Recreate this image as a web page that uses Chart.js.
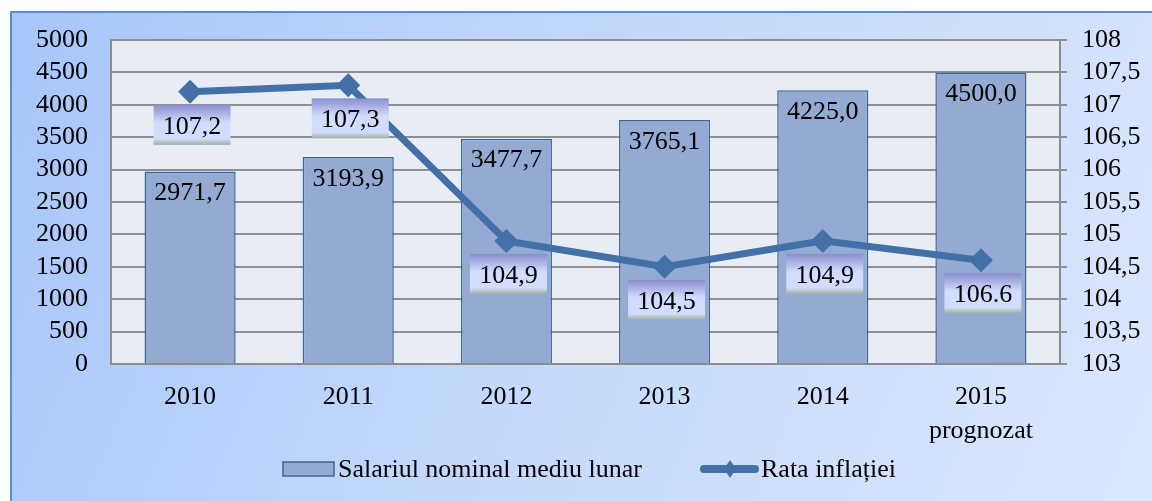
<!DOCTYPE html>
<html><head><meta charset="utf-8">
<script src="https://cdn.jsdelivr.net/npm/chart.js@4.4.1/dist/chart.umd.min.js"></script>
<style>html,body{margin:0;padding:0;background:#fff;}#wrap{width:1152px;height:501px;}</style>
</head><body><div id="wrap"><canvas id="c" width="1152" height="501"></canvas></div>
<script>
const categories = [['2010'], ['2011'], ['2012'], ['2013'], ['2014'], ['2015', 'prognozat']];
const salaryValues = [2971.7, 3193.9, 3477.7, 3765.1, 4225.0, 4500.0];
const inflationValues = [107.2, 107.3, 104.9, 104.5, 104.9, 104.6];
const inflationLabels = ['107,2', '107,3', '104,9', '104,5', '104,9', '106.6'];
const salaryLabel = 'Salariul nominal mediu lunar';
const inflationLabel = 'Rata inflației';
const leftTicks = {min: 0, max: 5000, step: 500};
const rightTicks = {min: 103, max: 108, step: 0.5};

const FONT = '"Liberation Serif", "Times New Roman", serif';
const BAR_FILL = '#94aad2';
const BAR_BORDER = '#3d6795';
const LINE_COLOR = '#4371a7';

const framePlugin = {
  id: 'frame',
  beforeDraw(chart) {
    const ctx = chart.ctx;
    ctx.save();
    ctx.fillStyle = '#ffffff';
    ctx.fillRect(0, 0, chart.width, chart.height);
    const g = ctx.createLinearGradient(10, 11, 1152, 501);
    g.addColorStop(0, '#a7c6fa');
    g.addColorStop(0.5, '#c5d9fc');
    g.addColorStop(1, '#dbe7fd');
    ctx.fillStyle = g;
    ctx.fillRect(10, 11, chart.width - 10, chart.height - 11);
    ctx.strokeStyle = '#5b8cd2';
    ctx.lineWidth = 2;
    ctx.beginPath();
    ctx.moveTo(11, chart.height);
    ctx.lineTo(11, 12);
    ctx.lineTo(chart.width, 12);
    ctx.stroke();
    const a = chart.chartArea;
    ctx.fillStyle = '#e8edf5';
    ctx.fillRect(a.left, a.top, a.right - a.left, a.bottom - a.top);
    ctx.restore();
  }
};

const labelPlugin = {
  id: 'labels',
  afterDatasetsDraw(chart) {
    const ctx = chart.ctx;
    ctx.save();
    ctx.font = '26px ' + FONT;
    ctx.textAlign = 'center';
    ctx.textBaseline = 'middle';
    ctx.fillStyle = '#000';
    chart.getDatasetMeta(0).data.forEach((el, i) => {
      const txt = salaryValues[i].toFixed(1).replace('.', ',');
      ctx.fillText(txt, el.x, el.y + 22);
    });
    chart.getDatasetMeta(1).data.forEach((el, i) => {
      const w = 77, h = 40;
      const cx = el.x + 2, top = el.y + 13;
      const g = ctx.createLinearGradient(0, top, 0, top + h);
      g.addColorStop(0, '#8a8dcf');
      g.addColorStop(0.45, '#d2ddfd');
      g.addColorStop(0.85, '#d2ddfd');
      g.addColorStop(1, '#9fb09c');
      ctx.fillStyle = g;
      ctx.fillRect(cx - w / 2, top, w, h);
      ctx.fillStyle = '#000';
      ctx.fillText(inflationLabels[i], cx, top + h / 2 + 2);
    });
    ctx.restore();
  }
};

const legendPlugin = {
  id: 'customLegend',
  afterDraw(chart) {
    const ctx = chart.ctx;
    ctx.save();
    const y = 469;
    ctx.font = '26px ' + FONT;
    ctx.textBaseline = 'middle';
    ctx.textAlign = 'left';
    ctx.fillStyle = BAR_FILL;
    ctx.fillRect(283, 462, 51, 14);
    ctx.strokeStyle = BAR_BORDER;
    ctx.lineWidth = 1.5;
    ctx.strokeRect(283, 462, 51, 14);
    ctx.fillStyle = '#000';
    ctx.fillText(chart.data.datasets[0].label, 338, y + 1);
    ctx.strokeStyle = LINE_COLOR;
    ctx.lineWidth = 8;
    ctx.lineCap = 'round';
    ctx.beginPath();
    ctx.moveTo(704, y);
    ctx.lineTo(755, y);
    ctx.stroke();
    ctx.fillStyle = LINE_COLOR;
    ctx.beginPath();
    ctx.moveTo(730, y - 9);
    ctx.lineTo(736, y);
    ctx.lineTo(730, y + 9);
    ctx.lineTo(724, y);
    ctx.closePath();
    ctx.fill();
    ctx.fillStyle = '#000';
    ctx.fillText(chart.data.datasets[1].label, 761, y + 1);
    ctx.restore();
  }
};

new Chart(document.getElementById('c'), {
  type: 'bar',
  data: {
    labels: categories,
    datasets: [
      {
        type: 'bar',
        label: salaryLabel,
        data: salaryValues,
        yAxisID: 'y',
        backgroundColor: BAR_FILL,
        borderColor: BAR_BORDER,
        borderWidth: 1.5,
        categoryPercentage: 1,
        barPercentage: 0.576,
        order: 2
      },
      {
        type: 'line',
        label: inflationLabel,
        data: inflationValues,
        yAxisID: 'y1',
        borderColor: LINE_COLOR,
        backgroundColor: LINE_COLOR,
        borderWidth: 7,
        pointStyle: 'rectRot',
        pointRadius: 12,
        pointBackgroundColor: LINE_COLOR,
        pointBorderColor: LINE_COLOR,
        pointBorderWidth: 0,
        tension: 0,
        order: 1
      }
    ]
  },
  options: {
    responsive: false,
    animation: false,
    devicePixelRatio: 1,
    layout: {padding: {left: 10, top: 40, right: 0, bottom: 47}},
    plugins: {legend: {display: false}, tooltip: {enabled: false}},
    scales: {
      x: {
        grid: {display: false, drawTicks: false},
        border: {display: true, color: '#8c8c8c', width: 2},
        ticks: {color: '#000', font: {family: FONT, size: 26, lineHeight: 1.3}, padding: 16, maxRotation: 0, autoSkip: false},
        afterFit(s) { s.height = 90; }
      },
      y: {
        position: 'left',
        min: leftTicks.min, max: leftTicks.max,
        ticks: {stepSize: leftTicks.step, color: '#000', font: {family: FONT, size: 26}, padding: 23, autoSkip: false,
          callback: v => String(v)},
        grid: {color: '#8f8f8f', lineWidth: 2, drawTicks: false},
        border: {display: true, color: '#8c8c8c', width: 2},
        afterFit(s) { s.width = 101; }
      },
      y1: {
        position: 'right',
        min: rightTicks.min, max: rightTicks.max,
        ticks: {stepSize: rightTicks.step, color: '#000', font: {family: FONT, size: 26}, padding: 15, autoSkip: false,
          callback: v => String(v).replace('.', ',')},
        grid: {drawOnChartArea: false, color: '#8f8f8f', lineWidth: 2, tickLength: 7},
        border: {display: true, color: '#8c8c8c', width: 2},
        afterFit(s) { s.width = 92; }
      }
    }
  },
  plugins: [framePlugin, labelPlugin, legendPlugin]
});
</script>
</body></html>
